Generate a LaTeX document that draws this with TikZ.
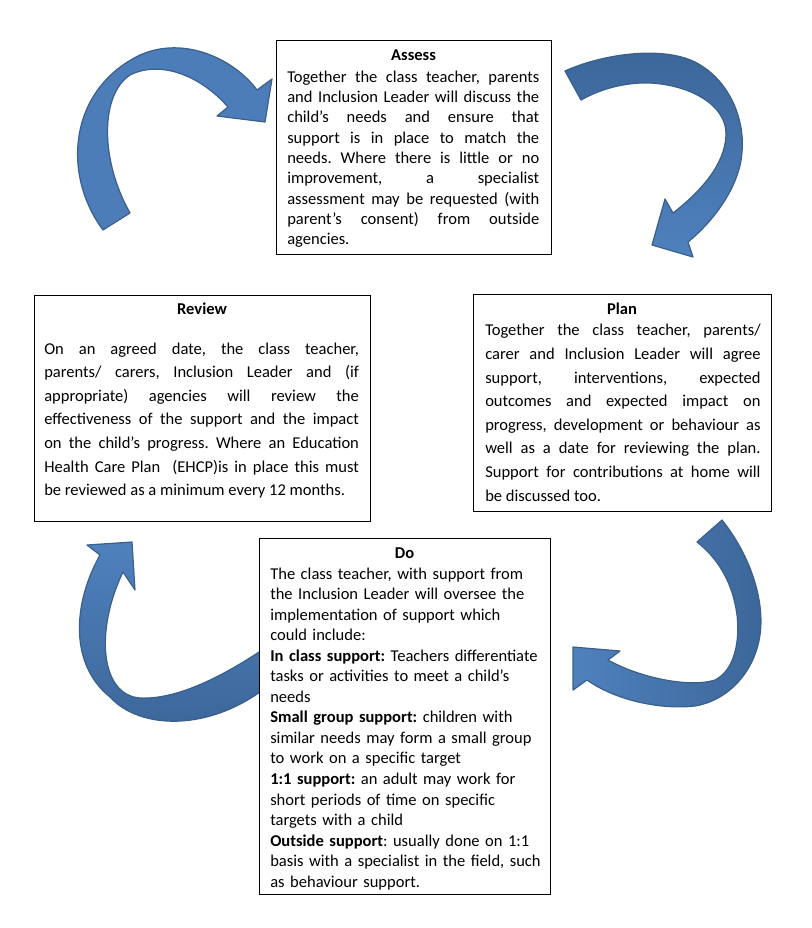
\documentclass[tikz,border=0pt]{standalone}
\usepackage{fontspec}
\setmainfont{Carlito}
\definecolor{arrowlight}{HTML}{4F81BD}
\definecolor{arrowdark}{HTML}{3C6699}
\definecolor{arrowline}{HTML}{3A5F8B}
\tolerance=10000
\hbadness=10000
\hfuzz=20pt
\frenchspacing
\begin{document}
\frenchspacing
\begin{tikzpicture}[x=0.75pt,y=-0.75pt,
  blockarrow/.style={draw=arrowline, line width=0.9pt, line join=round},
  boxframe/.style={draw=black, line width=1pt, fill=white, inner sep=0pt, anchor=north west},
  titletext/.style={font=\fontsize{12.4pt}{14pt}\selectfont\bfseries, inner sep=0pt, anchor=base},
  bodyA/.style={font=\fontsize{12.4pt}{15.25pt}\selectfont, inner sep=0pt, anchor=north west, align=justify},
  bodyB/.style={font=\fontsize{12.4pt}{17.7pt}\selectfont, inner sep=0pt, anchor=north west, align=justify},
  bodyC/.style={font=\fontsize{12.4pt}{15.4pt}\selectfont, inner sep=0pt, anchor=north west, align=left}
]
\useasboundingbox (0,0) rectangle (812,928);

% ---- curved block arrows ----
% top-left (Review -> Assess)
\draw[blockarrow, fill=arrowlight!85!arrowdark]
  (103,230) .. controls (62,175) and (68,90) .. (140,55)
  .. controls (185,35) and (235,60) .. (257,90)
  -- (272,79) -- (265,122) -- (217,116) -- (228,107)
  .. controls (200,75) and (160,60) .. (130,75)
  .. controls (100,95) and (100,160) .. (130,213) -- cycle;
% top-right (Assess -> Plan)
\draw[blockarrow, top color=arrowdark, bottom color=arrowlight]
  (565,71) .. controls (600,55) and (660,45) .. (695,62)
  .. controls (730,80) and (745,120) .. (742,152)
  .. controls (740,185) and (715,220) .. (688,242)
  -- (693,257) -- (652,245) -- (665,199) -- (673,213)
  .. controls (700,192) and (725,165) .. (726,135)
  .. controls (727,105) and (690,85) .. (650,83)
  .. controls (620,82) and (595,92) .. (581,100) -- cycle;
% bottom-right (Plan -> Do)
\draw[blockarrow, left color=arrowlight, right color=arrowdark]
  (722,520) .. controls (750,555) and (765,600) .. (760,635)
  .. controls (755,670) and (730,700) .. (695,706)
  .. controls (660,710) and (615,700) .. (587,680)
  -- (573,690) -- (573,647) -- (620,651) -- (608,660)
  .. controls (640,678) and (690,688) .. (715,680)
  .. controls (735,670) and (740,640) .. (737,615)
  .. controls (733,585) and (720,560) .. (697,542) -- cycle;
% bottom-left (Do -> Review)
\draw[blockarrow, top color=arrowlight, bottom color=arrowdark]
  (268,686) .. controls (210,732) and (140,730) .. (110,697)
  .. controls (70,665) and (72,605) .. (100,555)
  -- (87,545) -- (132,542) -- (135,590) -- (123,572)
  .. controls (95,630) and (100,695) .. (140,698)
  .. controls (180,700) and (230,672) .. (268,646) -- cycle;

% ---- boxes ----
\node[boxframe, minimum width=275*0.75pt, minimum height=214*0.75pt] (assessbox) at (276,40) {};
\node[boxframe, minimum width=336*0.75pt, minimum height=226*0.75pt] (reviewbox) at (34,295) {};
\node[boxframe, minimum width=298*0.75pt, minimum height=217*0.75pt] (planbox) at (473,294) {};
\node[boxframe, minimum width=291*0.75pt, minimum height=356*0.75pt] (dobox) at (259,538) {};

% ---- Assess ----
\node[titletext] (assesstitle) at (413.5,60) {Assess};
\node[bodyA, text width=189pt] (assesstext) at (287,67.5) {\strut Together the class teacher, parents\linebreak
and Inclusion Leader will discuss the\linebreak
child’s needs and ensure that\linebreak
support is in place to match the\linebreak
needs. Where there is little or no\linebreak
improvement, a specialist\linebreak
assessment may be requested (with\linebreak
parent’s consent) from outside\linebreak
agencies.};

% ---- Review ----
\node[titletext] (reviewtitle) at (202,314.5) {Review};
\node[bodyB, text width=236pt] (reviewtext) at (44,337.4) {\strut On an agreed date, the class teacher,\linebreak
parents/ carers, Inclusion Leader and (if\linebreak
appropriate) agencies will review the\linebreak
effectiveness of the support and the impact\linebreak
on the child’s progress. Where an Education\linebreak
Health Care Plan \ (EHCP)is in place this must\linebreak
be reviewed as a minimum every 12 months.};

% ---- Plan ----
\node[titletext] (plantitle) at (622,314.5) {Plan};
\node[bodyB, text width=206.5pt] (plantext) at (485,319.1) {\strut Together the class teacher, parents/\linebreak
carer and Inclusion Leader will agree\linebreak
support, interventions, expected\linebreak
outcomes and expected impact on\linebreak
progress, development or behaviour as\linebreak
well as a date for reviewing the plan.\linebreak
Support for contributions at home will\linebreak
be discussed too.};

% ---- Do ----
\node[titletext] (dotitle) at (404.5,558.2) {Do};
\node[bodyC, text width=210pt] (dotext) at (270,564.5) {\strut The class teacher, with support from\\
the Inclusion Leader will oversee the\\
implementation of support which\\
could include:\\
\textbf{In class support:} Teachers differentiate\\
tasks or activities to meet a child’s\\
needs\\
\textbf{Small group support:} children with\\
similar needs may form a small group\\
to work on a specific target\\
\textbf{1:1 support:} an adult may work for\\
short periods of time on specific\\
targets with a child\\
\textbf{Outside support}: usually done on 1:1\\
basis with a specialist in the field, such\\
as behaviour support.};
\end{tikzpicture}
\end{document}
